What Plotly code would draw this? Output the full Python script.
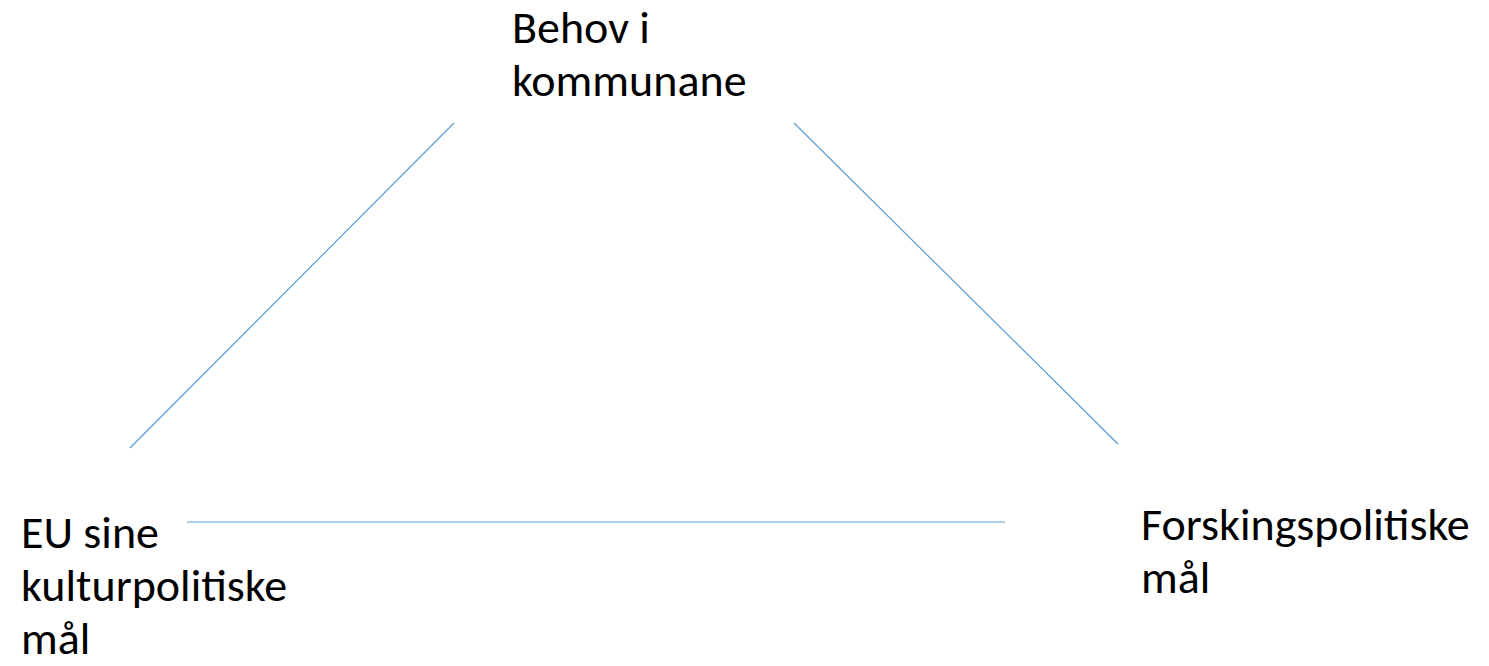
import plotly.graph_objects as go

W, H = 1489, 666

# Text lines of the three node labels: text, left x, baseline y (pixel-like layout units)
line_texts = ["Behov i", "kommunane",
              "EU sine", "kulturpolitiske", "mål",
              "Forskingspolitiske", "mål"]
line_x = [510, 510,
          19, 19, 19,
          1139, 1139]
line_baseline = [43, 96,
                 548, 601, 654,
                 540, 593]

# Connector segments (start/end)
seg_x0 = [454, 794, 187]
seg_y0 = [123, 123, 522]
seg_x1 = [130, 1118, 1005]
seg_y1 = [448, 444, 522]

line_color = "#5B9BD5"
font_size = 46

fig = go.Figure()
for x0, y0, x1, y1 in zip(seg_x0, seg_y0, seg_x1, seg_y1):
    fig.add_trace(go.Scatter(x=[x0, x1], y=[y0, y1], mode="lines",
                             line=dict(color=line_color, width=1.2),
                             hoverinfo="skip", showlegend=False))

for t, x, b in zip(line_texts, line_x, line_baseline):
    top = b - 1 - 0.987 * font_size
    fig.add_annotation(x=x, y=1 - top / H, text=t, showarrow=False,
                       xanchor="left", yanchor="top", align="left",
                       xref="x", yref="paper",
                       font=dict(family="Carlito, Lato, sans-serif", size=font_size, color="#000000"))

fig.update_xaxes(range=[0, W], visible=False, fixedrange=True)
fig.update_yaxes(range=[H, 0], visible=False, fixedrange=True)
fig.update_layout(width=W, height=H, margin=dict(l=0, r=0, t=0, b=0),
                  plot_bgcolor="white", paper_bgcolor="white")

fig.write_html("out.html", config={"displayModeBar": False},
               post_script="document.body.style.margin='0';document.body.style.overflow='hidden';")
